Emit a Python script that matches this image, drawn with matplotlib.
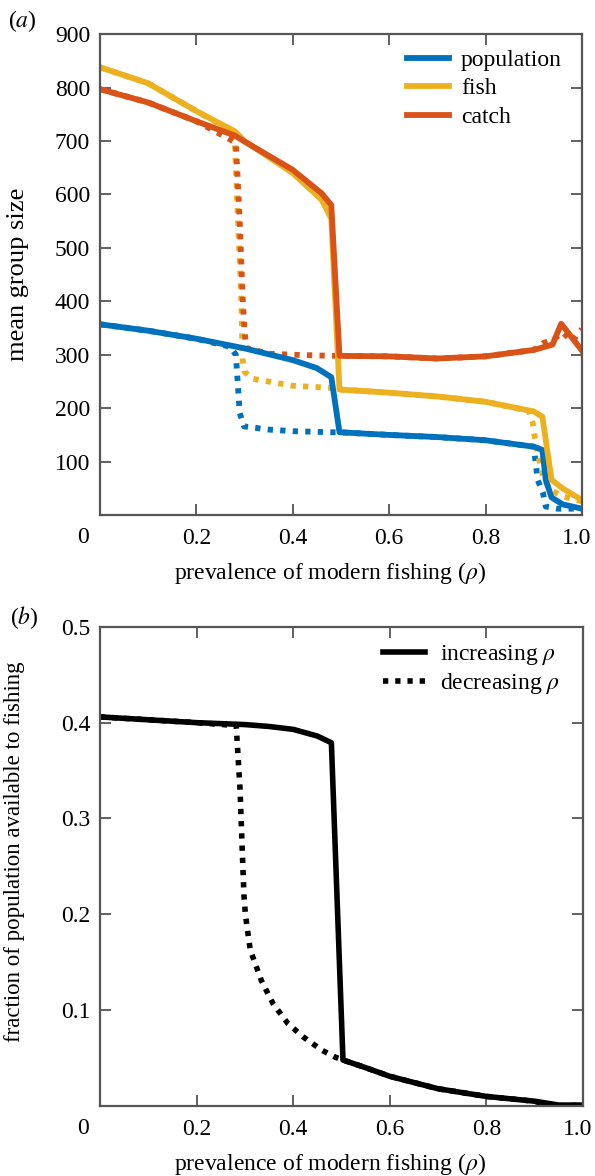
import numpy as np
import matplotlib
matplotlib.use('Agg')
import matplotlib.pyplot as plt
from matplotlib.transforms import ScaledTranslation

plt.rcParams['font.family'] = ['Liberation Serif', 'DejaVu Serif']
plt.rcParams['mathtext.fontset'] = 'stix'

# ---- panel (a): mean group size, solid = increasing rho, dotted = decreasing rho
pop_inc_x = [0, 0.1, 0.2, 0.3, 0.4, 0.45, 0.48, 0.497, 0.6, 0.7, 0.8, 0.9, 0.918, 0.925, 0.937, 0.96, 1.0]
pop_inc_y = [357, 345, 330, 312, 290, 275, 258, 155, 150, 146, 140, 128, 122, 66, 33, 20, 12]
pop_dec_x = [0, 0.1, 0.2, 0.27, 0.282, 0.29, 0.299, 0.35, 0.4, 0.48, 0.497, 0.6, 0.7, 0.8, 0.9, 0.905, 0.908, 0.919, 0.925, 0.95, 1.0]
pop_dec_y = [357, 345, 330, 315, 300, 191, 166, 160, 157, 155, 155, 150, 146, 140, 128, 91, 66, 42, 16, 12, 12]

fish_inc_x = [0, 0.1, 0.2, 0.28, 0.3, 0.4, 0.46, 0.48, 0.497, 0.6, 0.7, 0.8, 0.9, 0.918, 0.937, 0.96, 1.0]
fish_inc_y = [838, 808, 756, 718, 700, 640, 590, 555, 235, 229, 222, 212, 194, 184, 66, 50, 28]
fish_dec_x = [0, 0.1, 0.2, 0.279, 0.286, 0.293, 0.296, 0.3, 0.317, 0.4, 0.48, 0.497, 0.6, 0.7, 0.8, 0.89, 0.898, 0.905, 0.919, 0.933, 0.96, 1.0]
fish_dec_y = [838, 808, 756, 716, 560, 415, 291, 268, 255, 242, 238, 235, 229, 222, 212, 195, 172, 129, 73, 48, 35, 26]

catch_inc_x = [0, 0.1, 0.2, 0.28, 0.3, 0.4, 0.46, 0.48, 0.497, 0.6, 0.7, 0.8, 0.9, 0.939, 0.957, 1.0]
catch_inc_y = [797, 772, 737, 710, 699, 646, 602, 580, 298, 297, 293, 297, 309, 319, 358, 308]
catch_dec_x = [0, 0.1, 0.2, 0.282, 0.29, 0.296, 0.3, 0.303, 0.35, 0.4, 0.48, 0.497, 0.6, 0.7, 0.8, 0.9, 0.92, 0.94, 0.96, 0.98, 1.0]
catch_dec_y = [797, 772, 737, 697, 550, 408, 347, 313, 302, 300, 298, 298, 297, 293, 297, 309, 322, 328, 342, 325, 348]

# ---- panel (b): fraction of population available to fishing
frac_inc_x = [0, 0.1, 0.2, 0.3, 0.35, 0.4, 0.45, 0.479, 0.503, 0.55, 0.6, 0.7, 0.8, 0.9, 0.95, 1.0]
frac_inc_y = [0.406, 0.403, 0.400, 0.398, 0.396, 0.393, 0.386, 0.379, 0.048, 0.040, 0.031, 0.018, 0.010, 0.005, 0.001, 0.001]
frac_dec_x = [0, 0.1, 0.2, 0.282, 0.29, 0.295, 0.298, 0.301, 0.311, 0.334, 0.358, 0.389, 0.421, 0.46, 0.487, 0.503, 0.55, 0.6, 0.7, 0.8, 0.9, 0.93, 1.0]
frac_dec_y = [0.406, 0.403, 0.400, 0.397, 0.33, 0.26, 0.22, 0.20, 0.163, 0.131, 0.107, 0.086, 0.072, 0.058, 0.051, 0.048, 0.040, 0.031, 0.018, 0.010, 0.005, 0.0, 0.001]

xticks = [0.2, 0.4, 0.6, 0.8, 1.0]
xticklabels = ['0.2', '0.4', '0.6', '0.8', '1.0']

BLUE = '#0072BD'
YELLOW = '#EDB120'
RED = '#D95319'
SPINE = '#555555'
FS = 17

fig = plt.figure(figsize=(5.95, 11.76), dpi=100)


def style_axes(ax):
    for s in ax.spines.values():
        s.set_color(SPINE)
        s.set_linewidth(1.6)
    ax.tick_params(direction='in', length=8, width=1.3, color=SPINE,
                   top=True, right=True, labelsize=FS)
    ax.tick_params(axis='x', pad=9)
    ax.tick_params(axis='y', pad=7)
    ax.set_xlim(0, 1)
    ax.set_xticks(xticks)
    ax.set_xticklabels(xticklabels)
    # keep the last label inside the figure edge
    last = ax.get_xticklabels()[-1]
    last.set_transform(last.get_transform() + ScaledTranslation(-4 / 72, 0, fig.dpi_scale_trans))
    ax.set_xlabel(r'prevalence of modern fishing ($\rho$)', fontsize=FS, va='center')
    ax.xaxis.set_label_coords(0.477, -0.12)
    # shared origin label
    ax.text(-0.036, -0.047, '0', transform=ax.transAxes, fontsize=FS,
            ha='center', va='center')


# panel (a)
ax1 = fig.add_axes([0.168, 0.562, 0.810, 0.409])
dot_a = (0, (0.9, 1.25))
lw_a = 4.2
ax1.plot(pop_dec_x, pop_dec_y, color=BLUE, lw=lw_a, ls=dot_a, dash_capstyle='butt')
ax1.plot(fish_dec_x, fish_dec_y, color=YELLOW, lw=lw_a, ls=dot_a, dash_capstyle='butt')
ax1.plot(catch_dec_x, catch_dec_y, color=RED, lw=lw_a, ls=dot_a, dash_capstyle='butt')
ax1.plot(pop_inc_x, pop_inc_y, color=BLUE, lw=lw_a, label='population')
ax1.plot(fish_inc_x, fish_inc_y, color=YELLOW, lw=lw_a, label='fish')
ax1.plot(catch_inc_x, catch_inc_y, color=RED, lw=lw_a, label='catch')
style_axes(ax1)
ax1.set_ylim(0, 900)
ax1.set_yticks(range(100, 1000, 100))
ax1.set_ylabel('mean group size', fontsize=19)
ax1.yaxis.set_label_coords(-0.148, 0.5)
ax1.legend(loc='upper right', bbox_to_anchor=(0.978, 0.988), borderaxespad=0,
           frameon=False, fontsize=FS, handlelength=1.78,
           handletextpad=0.5, labelspacing=0.3)
fig.text(0.013, 0.982, r'($\it{a}$)', fontsize=FS, ha='left', va='center')

# panel (b)
ax2 = fig.add_axes([0.168, 0.0595, 0.812, 0.4075])
dot_b = (0, (0.95, 1.25))
lw_b = 4.0
ax2.plot(frac_dec_x, frac_dec_y, color='black', lw=lw_b, ls=dot_b, dash_capstyle='butt',
         label=r'decreasing $\rho$')
ax2.plot(frac_inc_x, frac_inc_y, color='black', lw=lw_b, label=r'increasing $\rho$')
style_axes(ax2)
ax2.set_ylim(0, 0.5)
ax2.set_yticks([0.1, 0.2, 0.3, 0.4, 0.5])
ax2.set_yticklabels(['0.1', '0.2', '0.3', '0.4', '0.5'])
ax2.set_ylabel('fraction of population available to fishing', fontsize=16.5)
ax2.yaxis.set_label_coords(-0.155, 0.53)
h, l = ax2.get_legend_handles_labels()
ax2.legend(h[::-1], l[::-1], loc='upper right', bbox_to_anchor=(0.972, 0.986),
           borderaxespad=0, frameon=False, fontsize=FS,
           handlelength=1.78, handletextpad=0.64, labelspacing=0.17)
fig.text(0.017, 0.475, r'($\it{b}$)', fontsize=FS, ha='left', va='center')

fig.savefig('out.png', dpi=100)
